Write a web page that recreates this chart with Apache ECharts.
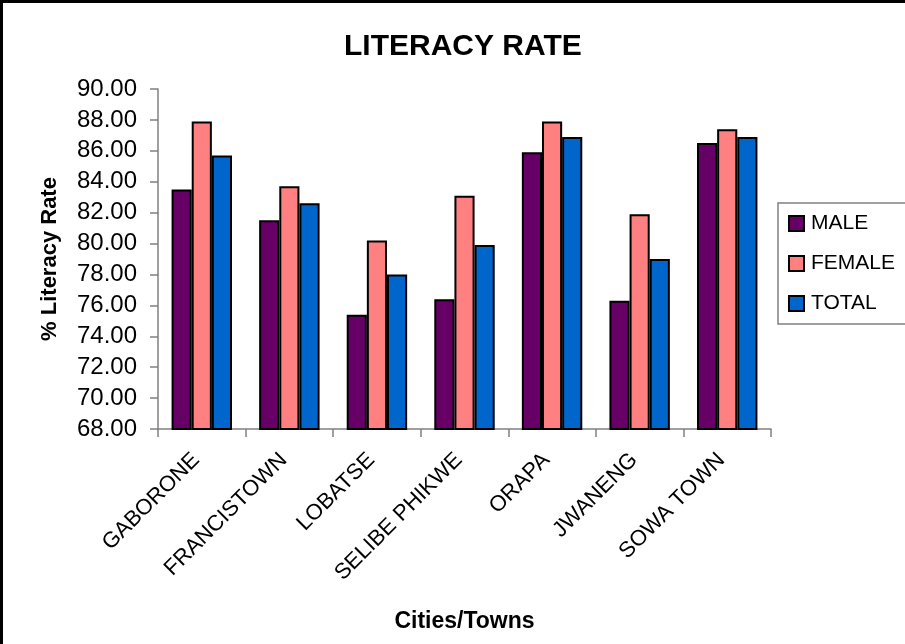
<!DOCTYPE html>
<html>
<head>
<meta charset="utf-8">
<title>Literacy Rate</title>
<script src="https://cdn.jsdelivr.net/npm/echarts@6/dist/echarts.min.js"></script>
<style>
  html, body { margin: 0; padding: 0; background: #fff; }
  #literacy { width: 905px; height: 644px; }
</style>
</head>
<body>
<!-- literacy rate by city, clustered bars -->
<div id="literacy"></div>
<script>
const cities = ['GABORONE', 'FRANCISTOWN', 'LOBATSE', 'SELIBE PHIKWE', 'ORAPA', 'JWANENG', 'SOWA TOWN']
const male = [83.5, 81.5, 75.4, 76.4, 85.9, 76.3, 86.5]
const female = [87.9, 83.7, 80.2, 83.1, 87.9, 81.9, 87.4]
const total = [85.7, 82.6, 78.0, 79.9, 86.9, 79.0, 86.9]
const seriesNames = ['MALE', 'FEMALE', 'TOTAL']

const chart = echarts.init(document.getElementById('literacy'))
const barColors = ['#660066', '#FF8080', '#0066CC']
const fontName = 'Liberation Sans, Arial, sans-serif'

const seriesData = [male, female, total].map((vals, i) => ({
  name: seriesNames[i],
  type: 'bar',
  barGap: '0%',
  barCategoryGap: '31%',
  itemStyle: {
    color: barColors[i],
    borderColor: '#000',
    borderWidth: 2
  },
  data: vals
}))

const option = {
  animation: false,
  backgroundColor: '#fff',
  textStyle: { fontFamily: fontName },
  title: {
    text: 'LITERACY RATE',
    left: 339,
    top: 27,
    textStyle: { fontSize: 30, fontWeight: 'bold', color: '#000', fontFamily: fontName }
  },
  legend: {
    orient: 'vertical',
    left: 778,
    top: 203,
    padding: [10, 40, 10, 10],
    itemGap: 19,
    itemWidth: 15,
    itemHeight: 15,
    icon: 'rect',
    borderColor: '#808080',
    borderWidth: 1.5,
    textStyle: { fontSize: 21, color: '#000', fontFamily: fontName, padding: [0, 0, 0, 2] },
    data: seriesNames
  },
  grid: {
    left: 158,
    right: 134,
    top: 89,
    bottom: 215
  },
  xAxis: {
    type: 'category',
    data: cities,
    name: 'Cities/Towns',
    nameLocation: 'middle',
    nameGap: 181,
    nameTextStyle: { fontSize: 23, fontWeight: 'bold', color: '#000' },
    axisLine: { lineStyle: { color: '#808080', width: 1.5 } },
    axisTick: { show: true, length: 8, alignWithLabel: false, lineStyle: { color: '#808080', width: 1.5 } },
    axisLabel: {
      rotate: 45,
      interval: 0,
      margin: 22,
      padding: [0, 8, 0, 0],
      fontSize: 22,
      color: '#000'
    }
  },
  yAxis: {
    type: 'value',
    min: 68,
    max: 90,
    interval: 2,
    name: '% Literacy Rate',
    nameLocation: 'middle',
    nameGap: 97,
    nameTextStyle: { fontSize: 22, fontWeight: 'bold', color: '#000' },
    axisLine: { show: true, lineStyle: { color: '#808080', width: 1.5 } },
    axisTick: { show: true, length: 8, lineStyle: { color: '#808080', width: 1.5 } },
    splitLine: { show: false },
    axisLabel: {
      margin: 21,
      fontSize: 24,
      color: '#000',
      formatter: v => v.toFixed(2)
    }
  },
  graphic: [
    { type: 'line', shape: { x1: 0, y1: 1.5, x2: 905, y2: 1.5 }, style: { stroke: '#000', lineWidth: 3 } },
    { type: 'line', shape: { x1: 1.5, y1: 0, x2: 1.5, y2: 644 }, style: { stroke: '#000', lineWidth: 3 } }
  ],
  series: seriesData
}

chart.setOption(option)
window.onresize = () => {
  chart.resize()
}
</script>
</body>
</html>
